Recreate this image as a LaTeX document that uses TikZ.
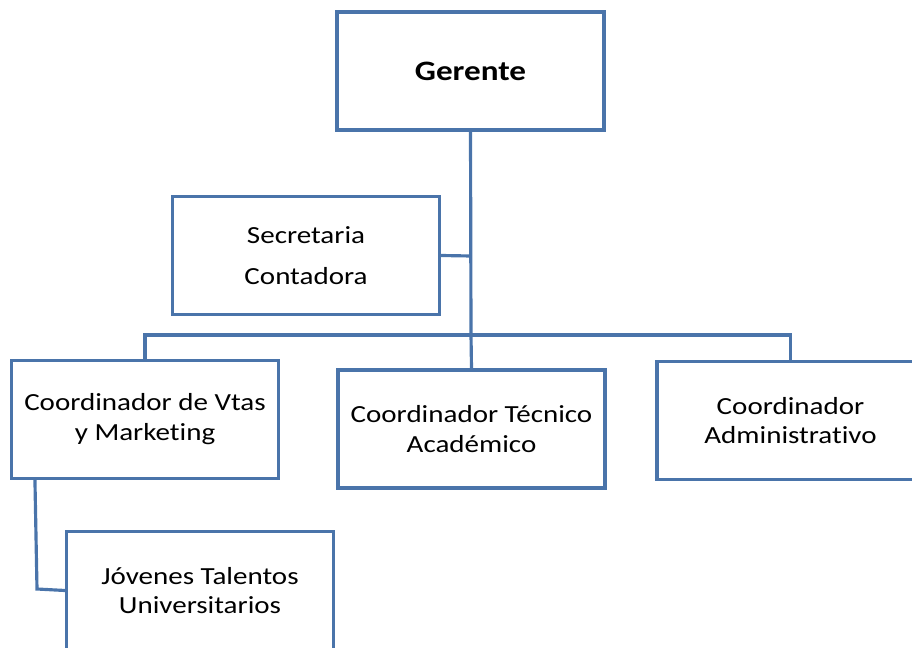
\documentclass[tikz,border=0pt]{standalone}
\usepackage{fontspec}
\setmainfont[Ligatures=NoCommon,FakeStretch=1.18]{Carlito}
\usepackage{xcolor}
\usepackage{tikz}
\definecolor{azulorg}{RGB}{74,116,170}

\begin{document}
\begin{tikzpicture}[x=0.02cm,y=-0.02cm,line width=1.8pt]
			\tikzset{caja/.style={draw=azulorg, minimum width=5.34cm, minimum height=2.36cm,
				inner sep=0pt, align=center, font=\fontsize{14}{17}\selectfont}}
			\clip (0,0) rectangle (912,648);
			% Cajas
			\node[caja] (gerente) at (470.5,71) {\fontsize{16}{19}\selectfont\bfseries Gerente};
			\node[caja, font=\fontsize{14}{23}\selectfont] (secretaria) at (306,255.5) {Secretaria\\Contadora};
			\node[caja] (vtas) at (145,419.5) {Coordinador de Vtas\\y Marketing};
			\node[caja] (tecnico) at (471.5,429) {Coordinador Técnico\\Académico};
			\node[caja] (admin) at (790.5,420.5) {Coordinador\\Administrativo};
			\node[caja] (jovenes) at (200,590.5) {Jóvenes Talentos\\Universitarios};
			% Conectores
			\coordinate (cruce) at (471,335);
			\coordinate (rama) at (471,256);
			\coordinate (baja) at (37,589);
			\draw[azulorg] (gerente.south) -- (cruce) -- (tecnico.north);
			\draw[azulorg] (vtas.north) |- (cruce) -| (admin.north);
			\draw[azulorg] (rama) -- (secretaria.east);
			\draw[azulorg] (vtas.south west) ++(25,0) -- (baja) -- (jovenes.west);
\end{tikzpicture}
\end{document}
